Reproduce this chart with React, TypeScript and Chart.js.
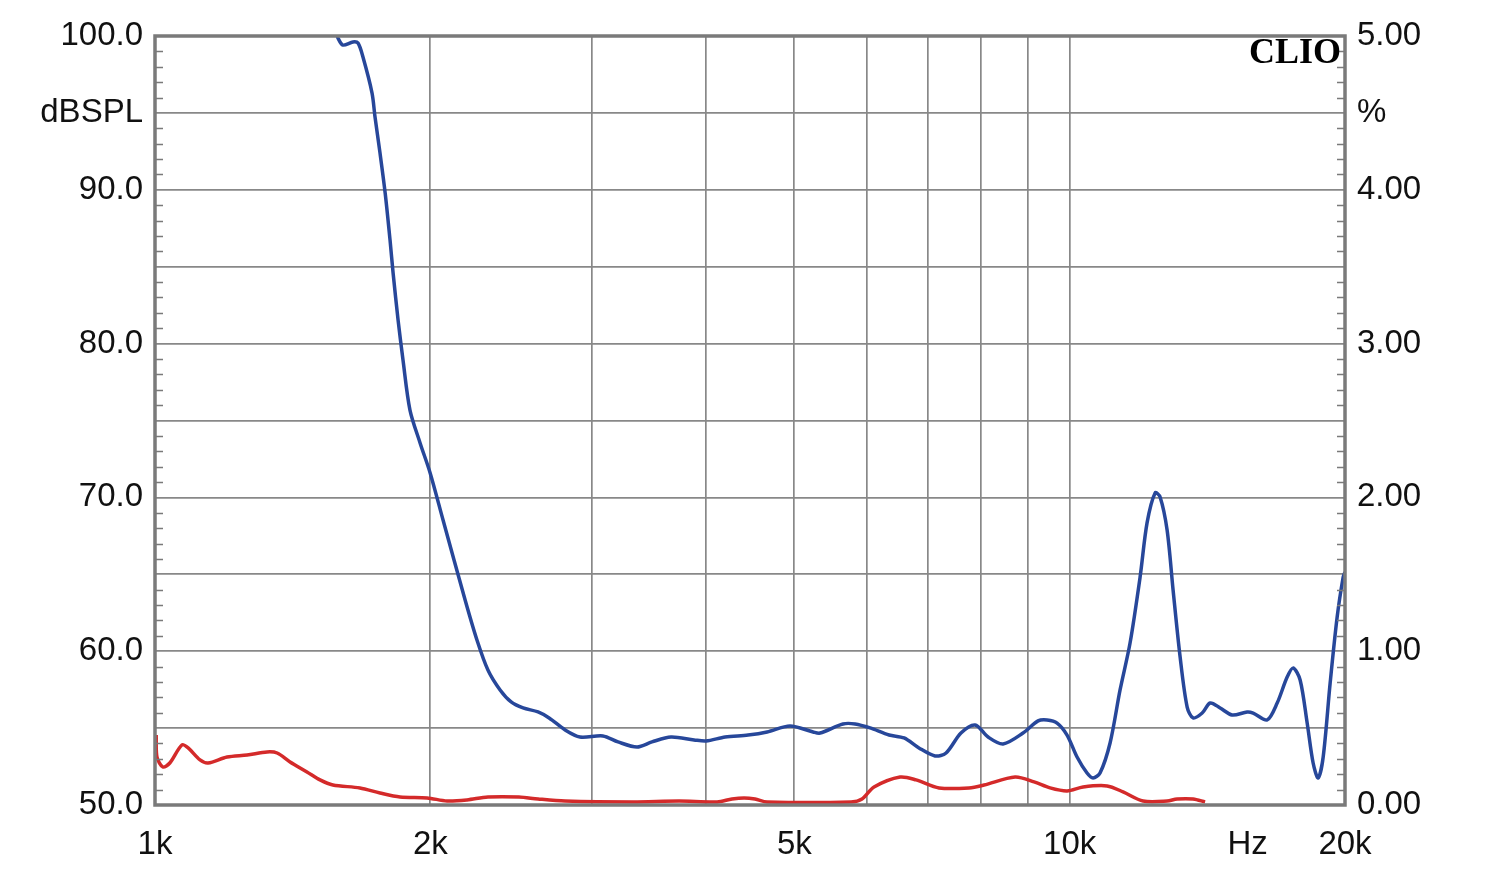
import React, { useEffect, useRef } from 'react';
import { Chart, registerables } from 'chart.js';

Chart.register(...registerables);

// Blue curve: SPL (dB) vs frequency (Hz)
const blueFreq = [1580, 1585, 1605, 1646, 1667, 1688, 1727, 1740, 1762, 1785, 1807, 1821, 1844, 1867, 1900, 1949, 1999, 2065, 2183, 2249, 2312, 2384, 2451, 2526, 2623, 2697, 2808, 2915, 3088, 3208, 3365, 3494, 3665, 3885, 4004, 4201, 4451, 4669, 4946, 5242, 5335, 5651, 5827, 6051, 6347, 6591, 6843, 7125, 7326, 7606, 7882, 8144, 8457, 8892, 9236, 9448, 9688, 9935, 10188, 10447, 10606, 10795, 11071, 11353, 11642, 11940, 12151, 12400, 12556, 12780, 12974, 13206, 13442, 13645, 13960, 14243, 14606, 15054, 15634, 15871, 16440, 16861, 17290, 17554, 17864, 18183, 18458, 18693, 18931, 19266, 19609, 19909, 20000];
const blueDb = [100.2, 99.87, 99.41, 99.61, 99.54, 98.63, 96.29, 94.73, 92.39, 89.79, 86.74, 84.59, 81.53, 78.93, 75.68, 73.54, 71.59, 68.53, 63.33, 60.73, 58.78, 57.48, 56.7, 56.31, 56.05, 55.66, 54.88, 54.42, 54.49, 54.1, 53.77, 54.1, 54.42, 54.23, 54.16, 54.42, 54.55, 54.75, 55.14, 54.75, 54.68, 55.27, 55.27, 55.01, 54.55, 54.36, 53.71, 53.19, 53.38, 54.68, 55.2, 54.42, 53.97, 54.68, 55.47, 55.53, 55.33, 54.55, 53.12, 52.08, 51.76, 52.08, 54.03, 57.48, 60.53, 64.82, 68.34, 70.29, 70.03, 67.88, 63.98, 59.62, 56.37, 55.66, 55.98, 56.63, 56.31, 55.85, 56.05, 55.98, 55.53, 56.63, 58.32, 58.91, 58.13, 55.33, 52.73, 51.76, 53.12, 57.93, 62.22, 64.82, 65.15];

// Red curve: distortion (%) vs frequency (Hz)
const redFreq = [1003, 1005, 1020, 1038, 1070, 1087, 1120, 1143, 1199, 1261, 1326, 1360, 1405, 1466, 1515, 1565, 1675, 1762, 1853, 1984, 2086, 2193, 2312, 2500, 2623, 2808, 3332, 3741, 4117, 4274, 4406, 4529, 4669, 5768, 5929, 6111, 6526, 6794, 7197, 7762, 8061, 8717, 9143, 9519, 9935, 10344, 10988, 11439, 12030, 12780, 13106, 13645, 14063];
const redPct = [0.455, 0.312, 0.247, 0.273, 0.39, 0.371, 0.293, 0.273, 0.312, 0.325, 0.345, 0.338, 0.28, 0.215, 0.163, 0.13, 0.111, 0.078, 0.052, 0.046, 0.026, 0.033, 0.052, 0.052, 0.039, 0.026, 0.02, 0.026, 0.02, 0.039, 0.046, 0.039, 0.02, 0.02, 0.039, 0.117, 0.182, 0.163, 0.111, 0.111, 0.13, 0.182, 0.15, 0.111, 0.091, 0.117, 0.124, 0.085, 0.026, 0.026, 0.039, 0.039, 0.02];

// Axis ticks and labels
const xTickValues = [1000, 2000, 3000, 4000, 5000, 6000, 7000, 8000, 9000, 10000, 15650, 20000];
const xTickLabels: Record<number, string> = { 1000: '1k', 2000: '2k', 5000: '5k', 10000: '10k', 15650: 'Hz', 20000: '20k' };
const leftTickValues = [50, 55, 60, 65, 70, 75, 80, 85, 90, 95, 100];
const leftTickLabels: Record<number, string> = { 100: '100.0', 95: 'dBSPL', 90: '90.0', 80: '80.0', 70: '70.0', 60: '60.0', 50: '50.0' };
const rightTickValues = [0, 0.5, 1, 1.5, 2, 2.5, 3, 3.5, 4, 4.5, 5];
const rightTickLabels: Record<number, string> = { 5: '5.00', 4.5: '%', 4: '4.00', 3: '3.00', 2: '2.00', 1: '1.00', 0: '0.00' };
const brandText = 'CLIO';

const GRID = '#888888';
const BORDER = '#7a7a7a';
const FONT = { family: '"Liberation Sans", Arial, sans-serif', size: 33 };

const framePlugin = {
  id: 'frame',
  afterDatasetsDraw(chart: any) {
    const { ctx, chartArea } = chart;
    const y = chart.scales.y;
    ctx.save();
    ctx.strokeStyle = BORDER;
    ctx.lineWidth = 1.5;
    for (let v = 51; v < 100; v++) {
      if (v % 5 === 0) continue;
      const py = Math.round(y.getPixelForValue(v)) + 0.5;
      ctx.beginPath();
      ctx.moveTo(chartArea.left, py);
      ctx.lineTo(chartArea.left + 8, py);
      ctx.moveTo(chartArea.right, py);
      ctx.lineTo(chartArea.right - 8, py);
      ctx.stroke();
    }
    ctx.lineWidth = 3.5;
    ctx.strokeRect(chartArea.left, chartArea.top, chartArea.right - chartArea.left, chartArea.bottom - chartArea.top);
    ctx.fillStyle = '#000';
    ctx.font = 'bold 36px "Liberation Serif", "DejaVu Serif", serif';
    ctx.textAlign = 'right';
    ctx.textBaseline = 'middle';
    ctx.fillText(brandText, chartArea.right - 4, chartArea.top + 18);
    ctx.restore();
  },
};

export default function App() {
  const ref = useRef<HTMLCanvasElement | null>(null);
  useEffect(() => {
    if (!ref.current) return;
    const chart = new Chart(ref.current, {
      type: 'line',
      data: {
        datasets: [
          {
            label: 'SPL',
            data: blueFreq.map((f, i) => ({ x: f, y: blueDb[i] })),
            borderColor: '#27479a',
            borderWidth: 3.5,
            pointRadius: 0,
            tension: 0.3,
            yAxisID: 'y',
          },
          {
            label: 'THD',
            data: redFreq.map((f, i) => ({ x: f, y: redPct[i] })),
            borderColor: '#d42a2a',
            borderWidth: 3.5,
            pointRadius: 0,
            tension: 0.3,
            yAxisID: 'y1',
          },
        ],
      },
      options: {
        responsive: false,
        animation: false,
        devicePixelRatio: 1,
        layout: { padding: { top: 36, left: 0, right: 0, bottom: 0 } },
        plugins: { legend: { display: false }, tooltip: { enabled: false } },
        scales: {
          x: {
            type: 'logarithmic',
            min: 1000,
            max: 20000,
            afterBuildTicks: (s: any) => {
              s.ticks = xTickValues.map((v) => ({ value: v }));
            },
            afterFit: (s: any) => {
              s.height = 72;
            },
            ticks: {
              autoSkip: false,
              maxRotation: 0,
              padding: 20,
              color: '#111',
              font: FONT,
              callback: (v: any) => xTickLabels[Number(v)] ?? '',
            },
            grid: {
              drawTicks: false,
              lineWidth: 1.7,
              color: (c: any) => {
                const v = c.tick?.value;
                return v === 15650 || v === 1000 || v === 20000 ? 'rgba(0,0,0,0)' : GRID;
              },
            },
            border: { display: false },
          },
          y: {
            type: 'linear',
            position: 'left',
            min: 50,
            max: 100,
            afterBuildTicks: (s: any) => {
              s.ticks = leftTickValues.map((v) => ({ value: v }));
            },
            afterFit: (s: any) => {
              s.width = 155;
            },
            ticks: {
              autoSkip: false,
              padding: 12,
              color: '#111',
              font: FONT,
              callback: (v: any) => leftTickLabels[Number(v)] ?? '',
            },
            grid: {
              drawTicks: false,
              lineWidth: 1.7,
              color: (c: any) => {
                const v = c.tick?.value;
                return v === 50 || v === 100 ? 'rgba(0,0,0,0)' : GRID;
              },
            },
            border: { display: false },
          },
          y1: {
            type: 'linear',
            position: 'right',
            min: 0,
            max: 5,
            afterBuildTicks: (s: any) => {
              s.ticks = rightTickValues.map((v) => ({ value: v }));
            },
            afterFit: (s: any) => {
              s.width = 155;
            },
            ticks: {
              autoSkip: false,
              padding: 12,
              color: '#111',
              font: FONT,
              callback: (v: any) => rightTickLabels[Number(v)] ?? '',
            },
            grid: { display: false, drawTicks: false },
            border: { display: false },
          },
        },
      },
      plugins: [framePlugin],
    } as any);
    return () => chart.destroy();
  }, []);

  return (
    <div style={{ position: 'fixed', left: 0, top: 0, width: 1500, height: 877, background: '#fff' }}>
      <canvas ref={ref} width={1500} height={877} style={{ display: 'block' }} />
    </div>
  );
}
